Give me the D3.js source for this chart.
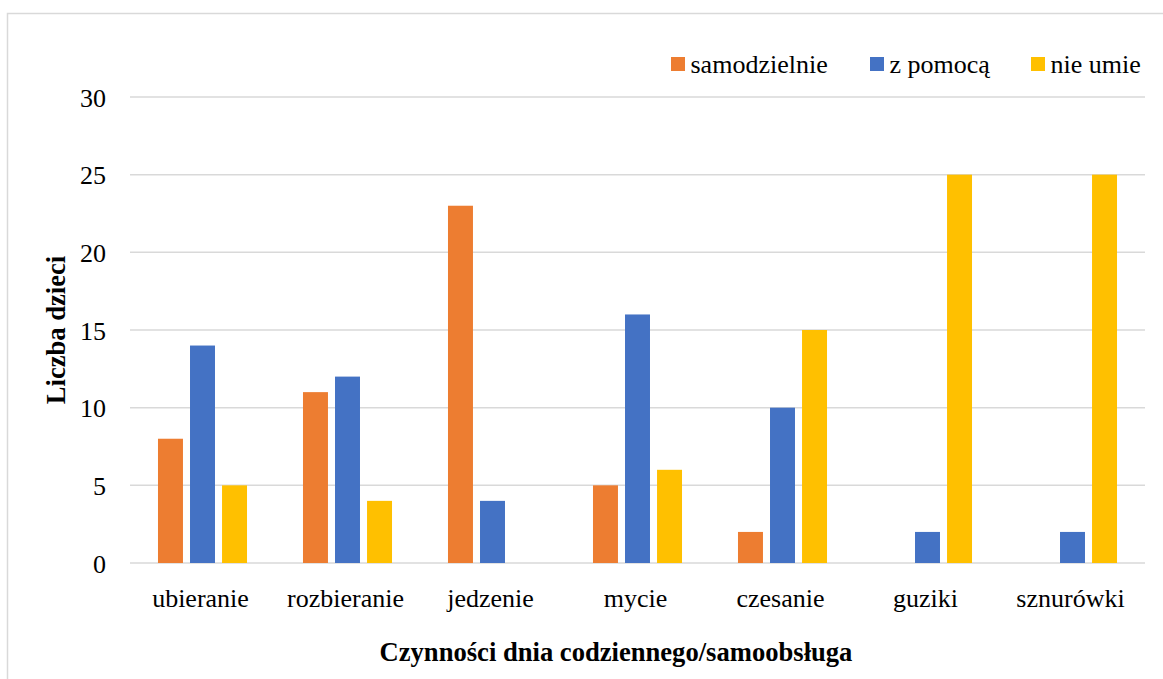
<!DOCTYPE html>
<html>
<head>
<meta charset="utf-8">
<script src="https://cdn.jsdelivr.net/npm/d3@7"></script>
<style>
    body { margin: 0; background: #fff; }
    text { font-family: "Liberation Serif", "Times New Roman", serif; fill: #000; }
</style>
</head>
<body>
<script>
"use strict";

var categories = ["ubieranie", "rozbieranie", "jedzenie", "mycie", "czesanie", "guziki", "sznurówki"];
var seriesNames = ["samodzielnie", "z pomocą", "nie umie"];
var samodzielnie = [8, 11, 23, 5, 2, 0, 0];
var zPomoca = [14, 12, 4, 16, 10, 2, 2];
var nieUmie = [5, 4, 0, 6, 15, 25, 25];
var yTicks = [0, 5, 10, 15, 20, 25, 30];
var colors = ["#ED7D31", "#4472C4", "#FFC000"];

function init() {
    var w = 1163;
    var h = 679;
    var plot = { left: 130, right: 1145, top: 97, bottom: 563 };
    var fs = "26px";
    var titleFs = "26.6px";

    var svg = d3.select("body")
        .append("svg")
        .attr("width", w)
        .attr("height", h);

    // chart frame
    svg.append("rect")
        .attr("x", 7.5)
        .attr("y", 13.5)
        .attr("width", w + 10)
        .attr("height", h + 10)
        .attr("fill", "none")
        .attr("stroke", "#D9D9D9")
        .attr("stroke-width", 1.5);

    var values = [samodzielnie, zPomoca, nieUmie];
    var data = categories.map(function (c, i) {
        return {
            cat: c,
            vals: values.map(function (v, s) { return { s: s, v: v[i] }; })
        };
    });

    var x0 = d3.scaleBand()
        .domain(categories)
        .range([plot.left, plot.right])
        .paddingInner(0.386)
        .paddingOuter(0.193);

    var x1 = d3.scaleBand()
        .domain(d3.range(seriesNames.length))
        .range([0, x0.bandwidth()])
        .paddingInner(0.22)
        .paddingOuter(0);

    var y = d3.scaleLinear()
        .domain([0, 30])
        .range([plot.bottom, plot.top]);

    // gridlines
    svg.append("g")
        .selectAll("line")
        .data(yTicks)
        .enter()
        .append("line")
        .attr("x1", plot.left)
        .attr("x2", plot.right)
        .attr("y1", function (d) { return y(d); })
        .attr("y2", function (d) { return y(d); })
        .attr("stroke", "#D9D9D9")
        .attr("stroke-width", 1.5);

    // y axis labels
    var yAxis = d3.axisLeft(y).tickValues(yTicks).tickSize(0).tickPadding(0);
    var ga = svg.append("g")
        .attr("transform", "translate(" + (plot.left - 24) + ",0)")
        .call(yAxis);
    ga.select(".domain").remove();
    ga.selectAll("text")
        .style("font-family", "Liberation Serif")
        .style("font-size", fs)
        .attr("dy", "0.35em");

    // bars
    var groups = svg.append("g")
        .selectAll("g")
        .data(data)
        .enter()
        .append("g")
        .attr("transform", function (d) { return "translate(" + x0(d.cat) + ",0)"; });

    groups.selectAll("rect")
        .data(function (d) { return d.vals.filter(function (e) { return e.v > 0; }); })
        .enter()
        .append("rect")
        .attr("x", function (d) { return x1(d.s); })
        .attr("y", function (d) { return y(d.v); })
        .attr("width", x1.bandwidth())
        .attr("height", function (d) { return y(0) - y(d.v); })
        .attr("fill", function (d) { return colors[d.s]; });

    // x axis labels
    var xAxis = d3.axisBottom(x0).tickSize(0).tickPadding(0);
    var gx = svg.append("g")
        .attr("transform", "translate(-2," + (plot.bottom + 35) + ")")
        .call(xAxis);
    gx.select(".domain").remove();
    gx.selectAll("text")
        .style("font-family", "Liberation Serif")
        .style("font-size", fs)
        .attr("dy", "0.35em");

    // axis titles
    svg.append("text")
        .attr("x", 616)
        .attr("y", 661)
        .attr("text-anchor", "middle")
        .style("font-size", titleFs)
        .style("font-weight", "bold")
        .text("Czynności dnia codziennego/samoobsługa");

    svg.append("text")
        .attr("transform", "translate(65,330) rotate(-90)")
        .attr("text-anchor", "middle")
        .style("font-size", titleFs)
        .style("font-weight", "bold")
        .text("Liczba dzieci");

    // legend
    var legendX = [671, 870, 1031];
    var legend = svg.append("g")
        .selectAll("g")
        .data(seriesNames)
        .enter()
        .append("g")
        .attr("transform", function (d, i) { return "translate(" + legendX[i] + ",57)"; });

    legend.append("rect")
        .attr("width", 14)
        .attr("height", 14)
        .attr("fill", function (d, i) { return colors[i]; });

    legend.append("text")
        .attr("x", 19.5)
        .attr("y", 7)
        .attr("dy", "0.35em")
        .style("font-size", fs)
        .text(function (d) { return d; });
}

window.onload = init;
</script>
</body>
</html>
